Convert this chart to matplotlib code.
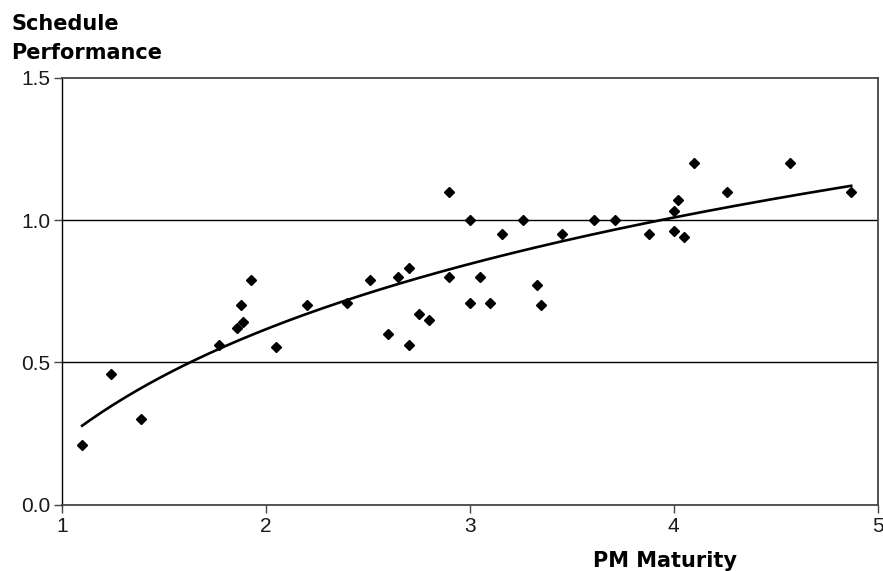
import numpy as np
import matplotlib
matplotlib.use("Agg")
import matplotlib.pyplot as plt

plt.rcParams['font.family'] = ['Liberation Sans', 'DejaVu Sans']

pm_maturity = [1.10, 1.24, 1.39, 1.77, 1.86, 1.89, 1.88, 1.93, 2.05, 2.20,
               2.40, 2.51, 2.60, 2.65, 2.70, 2.70, 2.75, 2.80, 2.90, 2.90,
               3.00, 3.00, 3.05, 3.10, 3.16, 3.26, 3.33, 3.35, 3.45, 3.61,
               3.71, 3.88, 4.00, 4.00, 4.02, 4.05, 4.10, 4.26, 4.57, 4.87]
schedule_perf = [0.21, 0.46, 0.30, 0.56, 0.62, 0.64, 0.70, 0.79, 0.555, 0.70,
                 0.71, 0.79, 0.60, 0.80, 0.83, 0.56, 0.67, 0.65, 1.10, 0.80,
                 1.00, 0.71, 0.80, 0.71, 0.95, 1.00, 0.77, 0.70, 0.95, 1.00,
                 1.00, 0.95, 0.96, 1.03, 1.07, 0.94, 1.20, 1.10, 1.20, 1.10]

x_ticks = [1, 2, 3, 4, 5]
y_ticks = [0.0, 0.5, 1.0, 1.5]

x = np.array(pm_maturity)
y = np.array(schedule_perf)
b, a = np.polyfit(np.log(x), y, 1)
xs = np.linspace(x.min(), x.max(), 200)
ys = a + b * np.log(xs)

fig = plt.figure(figsize=(8.83, 5.71), dpi=100)
ax = fig.add_axes([0.0699, 0.1163, 0.9241, 0.7476])

ax.set_xlim(1, 5)
ax.set_ylim(0, 1.5)
ax.set_xticks(x_ticks)
ax.set_yticks(y_ticks)
ax.set_xticklabels([str(t) for t in x_ticks])
ax.set_yticklabels([f"{t:.1f}" for t in y_ticks])

for yv in [0.5, 1.0]:
    ax.axhline(yv, color='black', lw=1.0, zorder=1)

ax.plot(xs, ys, color='black', lw=1.9, zorder=2)
ax.plot(x, y, linestyle='none', marker='D', markersize=5.5,
        color='black', zorder=3)

ax.spines['left'].set_color('black')
ax.spines['left'].set_linewidth(1.0)
for s in ['top', 'right', 'bottom']:
    ax.spines[s].set_color('#444444')
    ax.spines[s].set_linewidth(1.3)

ax.tick_params(axis='both', direction='out', length=6, width=1.0,
               labelsize=15, colors='#444444', labelcolor='#1a1a1a')
ax.tick_params(axis='x', pad=3)
ax.tick_params(axis='y', pad=2)

title_font = ['DejaVu Sans']
fig.text(0.013, 0.948, "Schedule", fontsize=15, fontweight='bold',
         ha='left', va='baseline', family=title_font)
fig.text(0.013, 0.896, "Performance", fontsize=15, fontweight='bold',
         ha='left', va='baseline', family=title_font)
fig.text(0.753, 0.0065, "PM Maturity", fontsize=15, fontweight='bold',
         ha='center', va='baseline', family=title_font)

fig.savefig("out.png", dpi=100)
